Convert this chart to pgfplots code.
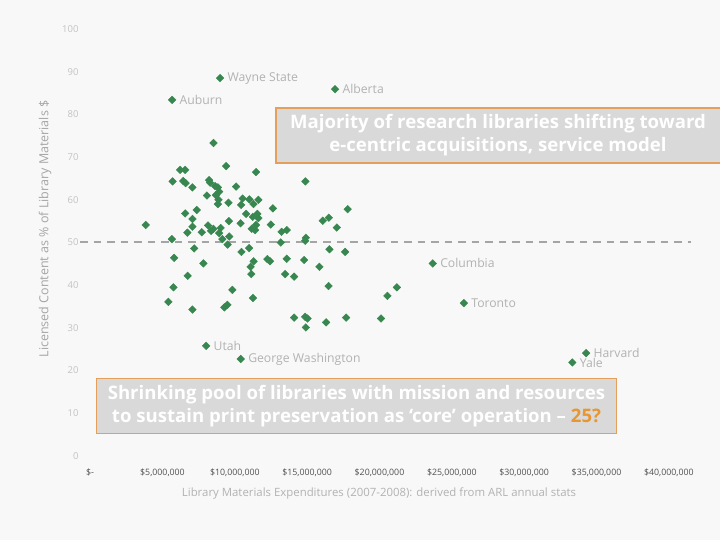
\documentclass[border=0pt]{standalone}
\usepackage{pgfplots}
\pgfplotsset{compat=1.18}
\usepackage{fontspec}
\setmainfont{Open Sans}
\definecolor{bg}{RGB}{248,248,248}
\definecolor{ptgreen}{RGB}{56,135,80}
\definecolor{lblgray}{RGB}{178,178,178}
\definecolor{ytickc}{RGB}{195,195,195}
\definecolor{xtickc}{RGB}{80,80,80}
\definecolor{axlab}{RGB}{165,165,165}
\definecolor{boxfill}{RGB}{217,217,217}
\definecolor{boxedge}{RGB}{228,160,90}
\definecolor{accent}{RGB}{232,150,50}
\definecolor{dashgray}{RGB}{165,165,165}

\pgfplotstableread{
x y
8.53 73.3
9.40 67.9
11.47 66.5
6.22 67.0
6.57 67.0
5.70 64.3
6.43 64.4
6.60 63.9
7.07 62.9
8.22 64.6
8.29 64.0
8.64 63.2
8.83 62.9
8.92 61.9
8.69 61.1
8.87 60.0
8.83 59.0
8.07 61.0
10.09 63.1
9.56 59.3
10.44 58.8
10.54 60.3
11.01 60.1
11.29 59.0
11.63 60.0
12.63 58.0
14.88 64.3
17.80 57.8
7.37 57.6
6.57 56.8
7.07 55.5
3.84 54.1
7.07 53.7
6.72 52.3
7.72 52.4
8.15 54.0
8.36 52.7
8.52 53.2
9.02 53.4
8.92 52.2
9.14 50.8
9.61 51.4
9.50 49.5
9.59 55.0
10.40 54.5
10.78 56.7
11.24 56.0
11.56 56.7
11.63 55.7
11.47 54.1
11.17 53.2
11.40 52.9
12.49 54.2
13.23 52.5
13.59 52.9
13.18 50.0
14.91 51.1
14.86 50.4
16.08 55.1
16.50 55.8
17.05 53.5
5.65 50.8
7.19 48.6
5.81 46.4
7.83 45.1
10.46 47.8
10.99 48.7
11.30 45.6
11.09 44.3
12.25 46.1
12.44 45.6
13.59 46.2
14.79 45.9
15.85 44.3
16.54 48.4
17.62 47.8
6.74 42.2
5.76 39.5
9.83 38.9
5.41 36.1
7.07 34.3
9.28 34.8
9.49 35.4
11.14 42.6
11.25 37.0
13.48 42.6
14.10 42.0
16.48 39.8
14.10 32.4
14.86 32.6
15.03 32.2
14.91 30.1
16.31 31.3
17.69 32.4
20.11 32.2
20.55 37.5
21.20 39.5
}\others

\begin{document}
\begin{tikzpicture}[x=1bp,y=1bp]
\path[use as bounding box, fill=bg] (0,0) rectangle (720,540);
\begin{axis}[
  at={(80bp,84bp)}, anchor=south west,
  scale only axis, width=612bp, height=427bp,
  xmin=-0.7, xmax=41.6, ymin=0, ymax=100,
  axis line style={draw=none}, major tick length=0pt,
  clip=false,
  xtick={0,5,...,40},
  xticklabels={\$-,{\$5,000,000},{\$10,000,000},{\$15,000,000},{\$20,000,000},{\$25,000,000},{\$30,000,000},{\$35,000,000},{\$40,000,000}},
  ytick={0,10,...,100},
  /pgf/number format/assume math mode=true,
  xticklabel style={font=\fontsize{8.8bp}{10bp}\selectfont, text=xtickc, yshift=-9bp},
  yticklabel style={font=\fontsize{9.5bp}{11bp}\selectfont, text=ytickc, xshift=2bp},
]
\addplot[dashgray, line width=2bp, dash pattern=on 7.5bp off 6bp, forget plot]
  coordinates {(-0.7,50) (41.5,50)};
\addplot[only marks, mark=square*, mark size=2.7bp, ptgreen, mark options={rotate=45}]
  table[x=x, y=y] {\others};
\addplot[only marks, mark=square*, mark size=2.7bp, ptgreen, mark options={rotate=45},
  point meta=explicit symbolic, nodes near coords,
  every node near coord/.append style={anchor=west, xshift=4bp, font=\fontsize{12.2bp}{14bp}\selectfont, text=lblgray}]
  coordinates {
    (5.67,83.4) [Auburn]
    (8.98,88.5) [Wayne State]
    (16.93,85.9) [Alberta]
    (23.68,45.1) [Columbia]
    (25.83,35.8) [Toronto]
    (34.28,24.1) [Harvard]
    (33.33,21.9) [Yale]
    (8.02,25.8) [Utah]
    (10.41,22.7) [George Washington]
  };
\end{axis}
\node[rotate=90, text=axlab, font=\fontsize{12.5bp}{14bp}\selectfont] at (45,311) {Licensed Content as \% of Library Materials \$};
\node[text=lblgray, font=\fontsize{11.4bp}{13bp}\selectfont] at (379,46) {Library Materials Expenditures (2007-2008): derived from ARL annual stats};
% annotation boxes
\draw[fill=boxfill, draw=boxedge, line width=1.2bp] (276,377) rectangle (724,432);
\node[align=center, text=white, font=\bfseries\fontsize{18.6bp}{23bp}\selectfont] at (498,404.5)
  {Majority of research libraries shifting toward\\e-centric acquisitions, service model};
\draw[fill=boxfill, draw=boxedge, line width=1.2bp] (96.3,106.7) rectangle (616.7,161.7);
\node[align=center, text=white, font=\bfseries\fontsize{18.6bp}{23bp}\selectfont] at (356.5,134.2)
  {Shrinking pool of libraries with mission and resources\\to sustain print preservation as ‘core’ operation – \textcolor{accent}{25?}};
\end{tikzpicture}
\end{document}
